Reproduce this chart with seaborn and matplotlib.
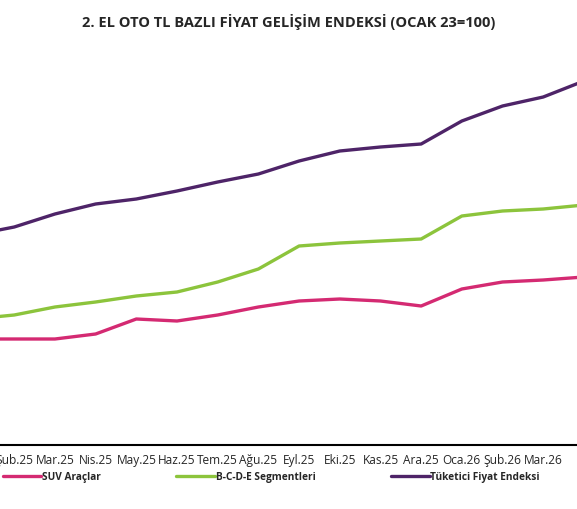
import numpy as np
import pandas as pd
import matplotlib
matplotlib.use("Agg")
import matplotlib.pyplot as plt
import seaborn as sns

months = ["Oca.25", "Şub.25", "Mar.25", "Nis.25", "May.25", "Haz.25", "Tem.25", "Ağu.25",
          "Eyl.25", "Eki.25", "Kas.25", "Ara.25", "Oca.26", "Şub.26", "Mar.26", "Nis.26"]
suv = [153.0, 153.0, 153.0, 155.5, 163.0, 162.0, 165.0, 169.0, 172.0, 173.0, 172.0, 169.5, 178.0, 181.5, 182.5, 184.0]
bcde = [163.0, 165.0, 169.0, 171.5, 174.5, 176.5, 181.5, 188.0, 199.5, 201.0, 202.0, 203.0, 214.5, 217.0, 218.0, 220.0]
tufe = [205.0, 209.0, 215.5, 220.5, 223.0, 227.0, 231.5, 235.5, 242.0, 247.0, 249.0, 250.5, 262.0, 269.5, 274.0, 282.0]

x = np.arange(len(months)) - 1
df = pd.DataFrame({"x": np.tile(x, 3),
                   "v": suv + bcde + tufe,
                   "s": ["SUV Araçlar"] * 16 + ["B-C-D-E Segmentleri"] * 16 + ["Tüketici Fiyat Endeksi"] * 16})

sns.set_style("white")
plt.rcParams["font.family"] = ["Open Sans", "DejaVu Sans"]

fig = plt.figure(figsize=(5.77, 5.10), dpi=100)
ax = fig.add_axes([0, 1 - 446 / 510, 1, 401 / 510])
palette = {"SUV Araçlar": "#d42a72", "B-C-D-E Segmentleri": "#8cc43c", "Tüketici Fiyat Endeksi": "#4e2468"}
sns.lineplot(data=df, x="x", y="v", hue="s", palette=palette, linewidth=2.4, ax=ax, legend=True)
ax.set_xlim(-0.35, 13.83)
ax.set_ylim(100, 300.5)
ax.set_xticks(x[1:15])
ax.set_xticklabels(months[1:15], fontsize=8.6)
ax.tick_params(axis="x", length=0, pad=6)
ax.set_yticks([])
ax.set_xlabel("")
ax.set_ylabel("")
for s in ["top", "left", "right"]:
    ax.spines[s].set_visible(False)
ax.spines["bottom"].set_color("black")
ax.spines["bottom"].set_linewidth(1.5)

h, l = ax.get_legend_handles_labels()
ax.legend_.remove()
fig.legend(h, l, loc="center", bbox_to_anchor=(0.47, 1 - 478 / 510), ncol=3, frameon=False,
           handlelength=3.8, handletextpad=0.05, columnspacing=7.5,
           prop={"weight": "bold", "size": 7.3})
fig.text(0.5, 1 - 22 / 510, "2. EL OTO TL BAZLI FİYAT GELİŞİM ENDEKSİ (OCAK 23=100)",
         ha="center", va="center", fontsize=10.5, fontweight="bold")
fig.savefig("out.png", dpi=100)
